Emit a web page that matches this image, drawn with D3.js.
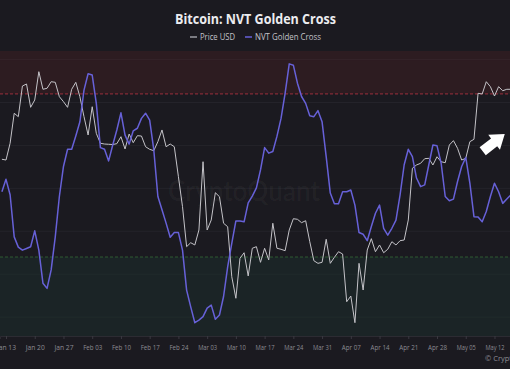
<!DOCTYPE html>
<html>
<head>
<meta charset="utf-8">
<script src="https://cdn.jsdelivr.net/npm/d3@7/dist/d3.min.js"></script>
<style>
html,body{margin:0;padding:0;background:#1b1a20;overflow:hidden;}
svg{display:block;}
</style>
</head>
<body>
<svg id="chart" width="510" height="369"></svg>
<script>
// ---- data ----
const startDate = "2025-01-12";
const endDate = "2025-05-17"; // exclusive
const priceUSD = [95700,95610,97600,101160,100760,104400,104640,101870,102740,106100,
104010,104130,104910,104840,103130,102540,101870,104010,104840,103130,
100760,98580,101940,98780,97600,97510,97480,97450,97550,98380,
96920,98700,97670,98500,98460,97190,96880,96720,97790,99180,
97190,97510,97190,93630,90070,85320,85790,85520,87300,95410,
87300,88490,91730,91250,88100,87690,81750,79190,83940,84600,
81840,85130,85320,83460,85130,83740,88100,85130,85010,84840,
87300,88640,88570,88170,88400,85910,83650,83340,83460,86200,
83340,84060,84720,84450,78780,79460,76290,83340,80170,84920,
86270,84720,85520,84600,85010,85910,85520,86030,86110,88490,
94630,95020,95220,95770,95810,95020,96000,95410,95290,97390,
97910,97000,95610,95810,97790,98070,103530,103450,104910,104320,
103210,104320,103840,104010,104010];
const nvtGoldenCross = [-0.08,0.21,-0.15,-1.13,-1.37,-1.44,-1.40,-1.36,-0.99,-1.44,
-2.21,-2.33,-1.90,-1.13,-0.19,0.51,0.91,0.91,1.22,1.55,
2.29,2.67,2.64,1.98,0.95,0.91,0.64,1.01,1.36,1.76,
1.24,1.03,1.34,1.40,1.63,1.75,1.59,0.90,-0.19,-0.50,
-0.81,-1.14,-1.03,-1.03,-1.44,-2.37,-2.76,-3.13,-3.07,-2.99,
-2.79,-2.72,-3.05,-2.95,-2.52,-1.83,-1.28,-0.76,-0.76,-0.78,
-0.34,-0.18,0.01,0.43,0.95,0.82,0.86,1.21,1.63,2.22,
2.90,2.87,2.45,2.14,1.98,1.69,1.67,1.81,1.55,0.74,
-0.11,-0.36,-0.36,-0.08,-0.08,-0.04,-0.39,-1.03,-1.07,-1.22,
-0.89,-0.58,-0.39,-0.93,-1.09,-0.93,-0.74,-0.15,0.55,0.91,
0.74,0.24,0.04,0.08,0.55,1.01,0.99,0.59,-0.19,-0.29,
-0.25,0.16,0.51,0.72,0.12,-0.66,-0.67,-0.78,-0.54,-0.19,
0.12,-0.08,-0.35,-0.25,-0.15];
const overheatedLevel = 2.2;
const undervaluedLevel = -1.6;
const gridLevels = [-3,-2,-1,0,1,2,3];
const seriesNames = ["Price USD", "NVT Golden Cross"];
const titleText = "Bitcoin: NVT Golden Cross";

// ---- layout ----
const W = 510, H = 369;
const plotTop = 51, plotBottom = 336;
const FONT = "'Open Sans', 'Noto Sans', sans-serif";
const colors = {bg:"#1b1a20", price:"#c4c3c8", nvt:"#6761d8", red:"#2d1c21", green:"#1b2426",
  redLine:"#9b2f3b", greenLine:"#2f5c33", grid:"#24232a", text:"#8c8b92"};

const dates = d3.utcDay.range(new Date(startDate+"T00:00:00Z"), new Date(endDate+"T00:00:00Z"));
const rows = dates.map((d,i)=>({date:d, price:priceUSD[i], nvt:nvtGoldenCross[i]}));

const svg = d3.select("#chart");
svg.append("rect").attr("width",W).attr("height",H).attr("fill",colors.bg);

const x = d3.scaleUtc()
  .domain([new Date(Date.UTC(2025,0,11,12,55)), new Date(Date.UTC(2025,4,15,18,40))])
  .range([0, W]);
const yN = d3.scaleLinear().domain([-3.44, 3.2]).range([plotBottom, plotTop]);
const yP = d3.scaleLinear().domain([74710, 108558]).range([plotBottom, plotTop]);

// bands
svg.append("rect").attr("x",0).attr("width",W)
  .attr("y",plotTop).attr("height",yN(overheatedLevel)-plotTop).attr("fill",colors.red);
svg.append("rect").attr("x",0).attr("width",W)
  .attr("y",yN(undervaluedLevel)).attr("height",plotBottom-yN(undervaluedLevel)).attr("fill",colors.green);

// grid
svg.append("g").selectAll("line").data(gridLevels).join("line")
  .attr("x1",0).attr("x2",W).attr("y1",d=>yN(d)).attr("y2",d=>yN(d))
  .attr("stroke",d=> d<undervaluedLevel ? "#212b2c" : (d>overheatedLevel ? "#35232a" : colors.grid)).attr("stroke-width",1);

// threshold lines
svg.append("line").attr("x1",0).attr("x2",W).attr("y1",yN(overheatedLevel)).attr("y2",yN(overheatedLevel))
  .attr("stroke",colors.redLine).attr("stroke-dasharray","3,2").attr("stroke-width",1);
svg.append("line").attr("x1",0).attr("x2",W).attr("y1",yN(undervaluedLevel)).attr("y2",yN(undervaluedLevel))
  .attr("stroke",colors.greenLine).attr("stroke-dasharray","3,2").attr("stroke-width",1);

// watermark
svg.append("text").attr("x",244).attr("y",201).attr("text-anchor","middle")
  .attr("font-family","Lato, 'Open Sans', sans-serif").attr("font-weight",600).attr("font-size",28)
  .attr("textLength",152).attr("lengthAdjust","spacingAndGlyphs")
  .attr("fill","#ffffff").attr("fill-opacity",0.045).text("CryptoQuant");

// clip
svg.append("clipPath").attr("id","clip").append("rect").attr("x",0).attr("y",0).attr("width",W).attr("height",plotBottom);

const g = svg.append("g").attr("clip-path","url(#clip)");
g.append("path").datum(rows)
  .attr("d", d3.line().x(d=>x(d.date)).y(d=>yP(d.price)))
  .attr("fill","none").attr("stroke",colors.price).attr("stroke-width",1).attr("stroke-linejoin","round");
g.append("path").datum(rows)
  .attr("d", d3.line().x(d=>x(d.date)).y(d=>yN(d.nvt)))
  .attr("fill","none").attr("stroke",colors.nvt).attr("stroke-width",1.5).attr("stroke-linejoin","round");

// x axis
const ax = svg.append("g").attr("transform",`translate(0,${plotBottom})`)
  .call(d3.axisBottom(x).ticks(d3.utcMonday.every(1)).tickFormat(d3.utcFormat("%b %d")).tickSize(3).tickPadding(5));
ax.select(".domain").attr("stroke","#2c2b32");
ax.selectAll(".tick line").attr("stroke","#3a3940");
ax.selectAll(".tick text").attr("fill",colors.text).attr("font-size",8)
  .attr("font-family",FONT).attr("textLength",19).attr("lengthAdjust","spacingAndGlyphs");

// title
svg.append("text").attr("x",255.5).attr("y",24).attr("text-anchor","middle")
  .attr("font-family",FONT).attr("font-weight",700).attr("font-size",14)
  .attr("textLength",161).attr("lengthAdjust","spacingAndGlyphs")
  .attr("fill","#ececef").text(titleText);

// legend
const legend = svg.append("g").attr("font-family",FONT).attr("font-size",9);
const legItems = [{name:seriesNames[0], color:"#9d9ca3", lx:190, tx:200, w:35},
                  {name:seriesNames[1], color:colors.nvt, lx:245, tx:255, w:66}];
legItems.forEach(it=>{
  legend.append("line").attr("x1",it.lx).attr("x2",it.lx+7).attr("y1",37).attr("y2",37).attr("stroke",it.color).attr("stroke-width",1.5);
  legend.append("text").attr("x",it.tx).attr("y",40).attr("fill","#c3c2c8")
    .attr("textLength",it.w).attr("lengthAdjust","spacingAndGlyphs").text(it.name);
});

// arrow annotation (placed on price scale)
const arrowBase = [x(new Date(Date.UTC(2025,4,9,3))), yP(96650)];
svg.append("path")
  .attr("d","M0,-5 L14.5,-5 L14.5,-9.5 L28,0 L14.5,9.5 L14.5,5 L0,5 Z")
  .attr("fill","#ffffff")
  .attr("transform",`translate(${arrowBase[0]},${arrowBase[1]}) rotate(-38)`);

// footer
svg.append("text").attr("x",485).attr("y",360.5).attr("font-family",FONT)
  .attr("font-size",7.5).attr("fill","#8c8b92").text("© CryptoQuant");
</script>
</body>
</html>
